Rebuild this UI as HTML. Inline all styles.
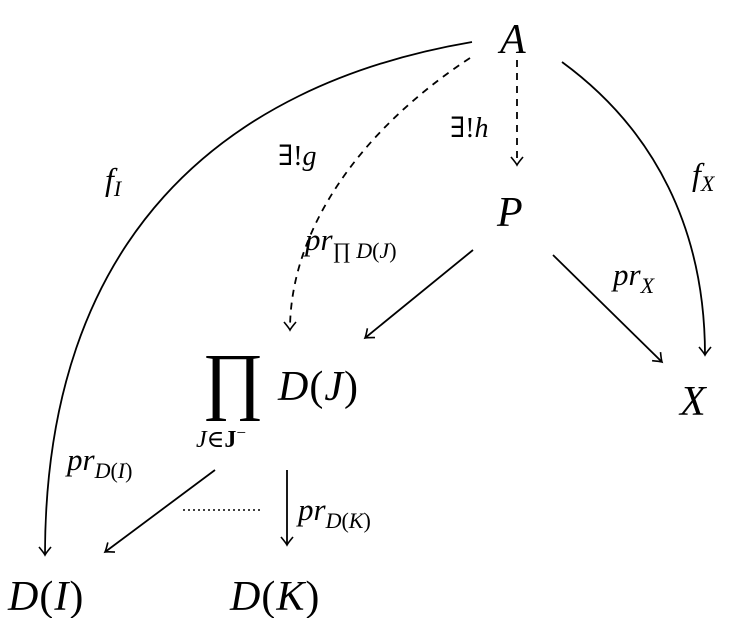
<!DOCTYPE html>
<html><head><meta charset="utf-8"><style>
html,body{margin:0;padding:0;background:#fff;width:740px;height:618px;overflow:hidden}
svg text{font-family:"Liberation Serif","DejaVu Serif",serif;font-style:italic;fill:#000}
.up{font-style:normal}
</style></head><body>
<svg width="740" height="618" viewBox="0 0 740 618" xmlns="http://www.w3.org/2000/svg">
<defs>
<marker id="h" markerWidth="20" markerHeight="20" refX="0" refY="0" viewBox="-10 -10 20 20" orient="auto" markerUnits="userSpaceOnUse">
<path d="M-8,-6 Q-2,-1 0,0 Q-2,1 -8,6" fill="none" stroke="#000" stroke-width="1.6"/>
</marker>
</defs>
<g fill="none" stroke="#000" stroke-width="1.8">
<path d="M472,42 C220,85 45,240 45,555" marker-end="url(#h)"/>
<path d="M470,58 C360,130 290,230 290,330" stroke-dasharray="7,6" marker-end="url(#h)"/>
<path d="M517,60 L517,165" stroke-dasharray="7,6" marker-end="url(#h)"/>
<path d="M562,62 C655,130 705,230 705,355" marker-end="url(#h)"/>
<path d="M473,250 L365,338" marker-end="url(#h)"/>
<path d="M553,255 L662,362" marker-end="url(#h)"/>
<path d="M215,470 L105,552" marker-end="url(#h)"/>
<path d="M287,470 L287,545" marker-end="url(#h)"/>
<path d="M183,510 L260,510" stroke-dasharray="2,3" stroke-width="1.5"/>
</g>
<text x="500" y="53" font-size="42">A</text>
<text x="497" y="226" font-size="42">P</text>
<text x="680" y="415" font-size="42">X</text>
<text x="278" y="400" font-size="42" letter-spacing="1">D<tspan class="up">(</tspan>J<tspan class="up">)</tspan></text>
<text x="202" y="405" font-size="75" class="up">∏</text>
<text x="196" y="447" font-size="24">J<tspan class="up">∈</tspan><tspan class="up" font-weight="bold">J</tspan><tspan class="up" dy="-9" font-size="17">−</tspan></text>
<text x="8" y="610" font-size="42" letter-spacing="1">D<tspan class="up">(</tspan>I<tspan class="up">)</tspan></text>
<text x="230" y="610" font-size="42" letter-spacing="1">D<tspan class="up">(</tspan>K<tspan class="up">)</tspan></text>
<text x="105" y="190" font-size="32">f<tspan font-size="22" dy="6">I</tspan></text>
<text x="278" y="165" font-size="28"><tspan class="up">∃!</tspan>g</text>
<text x="450" y="137" font-size="28"><tspan class="up">∃!</tspan>h</text>
<text x="305" y="250" font-size="31">pr<tspan font-size="22" dy="8"><tspan class="up">∏ </tspan>D<tspan class="up">(</tspan>J<tspan class="up">)</tspan></tspan></text>
<text x="692" y="185" font-size="32">f<tspan font-size="22" dy="6">X</tspan></text>
<text x="613" y="285" font-size="31">pr<tspan font-size="22" dy="8">X</tspan></text>
<text x="67" y="470" font-size="31">pr<tspan font-size="22" dy="8">D<tspan class="up">(</tspan>I<tspan class="up">)</tspan></tspan></text>
<text x="298" y="520" font-size="31">pr<tspan font-size="22" dy="8">D<tspan class="up">(</tspan>K<tspan class="up">)</tspan></tspan></text>
</svg>
</body></html>
